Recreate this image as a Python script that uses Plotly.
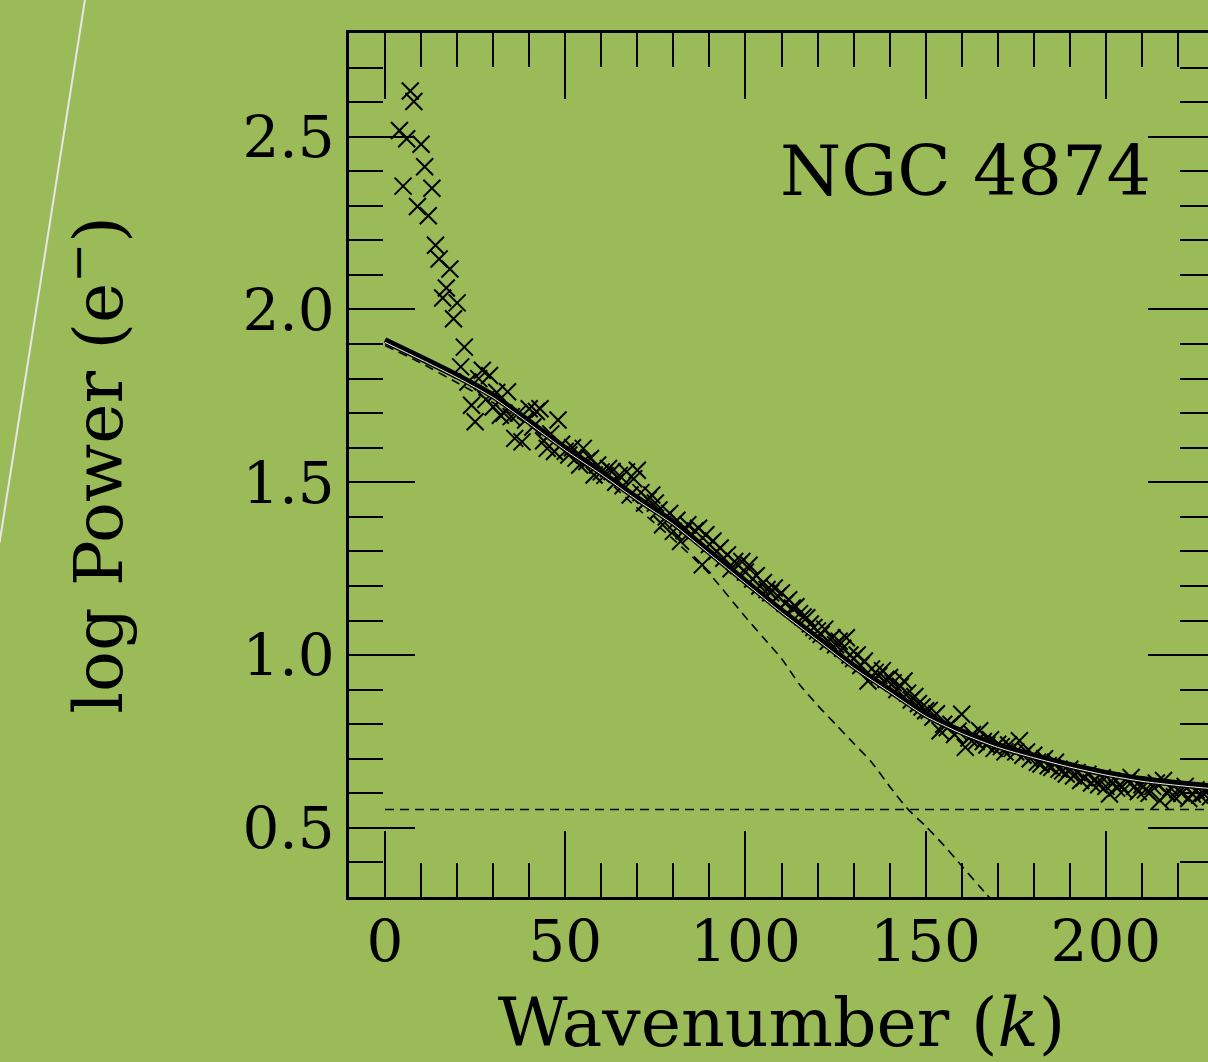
import plotly.graph_objects as go

# ---- data ----
k_data = list(range(4, 231))
p_data = [
    2.518, 2.357, 2.494, 2.632, 2.602, 2.298, 2.478, 2.413, 2.271, 2.351,   # 4-13
    2.186, 2.146, 2.033, 2.062, 2.117, 1.973, 2.019, 1.834, 1.891, 1.79,    # 14-23
    1.723, 1.675, 1.80, 1.824, 1.74, 1.809, 1.718, 1.76, 1.694, 1.70,       # 24-33
    1.762, 1.69, 1.627, 1.70, 1.617, 1.68, 1.713, 1.66, 1.705, 1.713,       # 34-43
    1.62, 1.598, 1.64, 1.589, 1.680, 1.61, 1.59, 1.579, 1.60, 1.57,         # 44-53
    1.550, 1.598, 1.56, 1.569, 1.521, 1.55, 1.53, 1.52, 1.54, 1.531,        # 54-63
    1.50, 1.52, 1.49, 1.53, 1.463, 1.51, 1.535, 1.47, 1.44, 1.45,           # 64-73
    1.463, 1.44, 1.42, 1.377, 1.40, 1.41, 1.358, 1.39, 1.329, 1.36,         # 74-83
    1.377, 1.35, 1.36, 1.367, 1.261, 1.348, 1.32, 1.33, 1.30, 1.31,         # 84-93
    1.28, 1.29, 1.25, 1.271, 1.26, 1.271, 1.24, 1.26, 1.22, 1.23,           # 94-103
    1.20, 1.21, 1.19, 1.18, 1.194, 1.17, 1.18, 1.15, 1.16, 1.136,           # 104-113
    1.14, 1.12, 1.11, 1.108, 1.09, 1.08, 1.07, 1.06, 1.075, 1.04,           # 114-123
    1.05, 1.03, 1.040, 1.02, 1.050, 1.00, 0.99, 1.00, 0.97, 0.983,          # 124-133
    0.925, 0.96, 0.95, 0.94, 0.955, 0.93, 0.935, 0.92, 0.90, 0.91,          # 134-143
    0.925, 0.89, 0.87, 0.88, 0.86, 0.85, 0.839, 0.84, 0.82, 0.83,           # 144-153
    0.781, 0.80, 0.79, 0.80, 0.77, 0.78, 0.829, 0.733, 0.76, 0.77,          # 154-163
    0.75, 0.781, 0.75, 0.74, 0.755, 0.73, 0.742, 0.735, 0.72, 0.74,         # 164-173
    0.73, 0.72, 0.752, 0.71, 0.72, 0.70, 0.71, 0.69, 0.685, 0.70,           # 174-183
    0.68, 0.675, 0.69, 0.67, 0.665, 0.656, 0.67, 0.65, 0.66, 0.637,         # 184-193
    0.645, 0.655, 0.63, 0.64, 0.625, 0.645, 0.62, 0.598, 0.63, 0.615,       # 194-203
    0.625, 0.61, 0.635, 0.646, 0.62, 0.605, 0.625, 0.61, 0.60, 0.62,        # 204-213
    0.63, 0.579, 0.637, 0.60, 0.615, 0.59, 0.61, 0.60, 0.62, 0.585,         # 214-223
    0.598, 0.61, 0.595, 0.60, 0.605, 0.59, 0.60,                            # 224-230
]

k_fit = [0, 10, 20, 30, 40, 50, 60, 70, 80, 90, 100, 110, 120, 130, 140,
         150, 160, 170, 180, 190, 200, 210, 220, 230]
p_fit = [1.912, 1.862, 1.81, 1.752, 1.677, 1.60, 1.53, 1.455, 1.385, 1.30,
         1.215, 1.13, 1.05, 0.97, 0.90, 0.83, 0.78, 0.74, 0.71, 0.683,
         0.66, 0.642, 0.63, 0.62]

k_psf = [0, 10, 20, 30, 40, 50, 60, 70, 80, 90, 100, 105, 110, 115, 120,
         125, 130, 135, 140, 145, 150, 155, 160, 165, 168]
p_psf = [1.896, 1.845, 1.788, 1.73, 1.665, 1.595, 1.52, 1.425, 1.335, 1.235,
         1.11, 1.05, 0.99, 0.915, 0.855, 0.80, 0.745, 0.69, 0.62, 0.555,
         0.505, 0.45, 0.39, 0.33, 0.295]

bg_level = 0.553
k_bg = [0, 230]

x_ticks = [0, 50, 100, 150, 200]
y_ticks = [0.5, 1.0, 1.5, 2.0, 2.5]
label = "NGC 4874"

BG = "#9bbb59"
FONT = "DejaVu Serif"

fig = go.Figure()

# background level (dashed horizontal)
fig.add_trace(go.Scatter(x=k_bg, y=[bg_level] * len(k_bg), mode="lines",
                         line=dict(color="black", width=1.6, dash="9px,6px"),
                         hoverinfo="skip", showlegend=False))
# PSF component (dashed curve)
fig.add_trace(go.Scatter(x=k_psf, y=p_psf, mode="lines",
                         line=dict(color="black", width=1.6, dash="9px,6px",
                                   shape="spline", smoothing=0.6),
                         hoverinfo="skip", showlegend=False))
# data crosses
fig.add_trace(go.Scatter(x=k_data, y=p_data, mode="markers",
                         marker=dict(symbol="x-thin", size=17, color="black",
                                     line=dict(color="black", width=2)),
                         showlegend=False))
# fit (thick solid line, drawn as double line)
fig.add_trace(go.Scatter(x=k_fit, y=p_fit, mode="lines",
                         line=dict(color="black", width=5.5, shape="spline", smoothing=0.6),
                         hoverinfo="skip", showlegend=False))
fig.add_trace(go.Scatter(x=k_fit, y=[v - 0.0108 for v in p_fit], mode="lines",
                         line=dict(color="black", width=1.6, shape="spline", smoothing=0.6),
                         hoverinfo="skip", showlegend=False))
fig.add_trace(go.Scatter(x=k_fit, y=[v - 0.0072 for v in p_fit], mode="lines",
                         line=dict(color="#f2f2f2", width=1, shape="spline", smoothing=0.6),
                         hoverinfo="skip", showlegend=False))

axis_common = dict(
    showgrid=False, zeroline=False, showline=True, linecolor="black", linewidth=2.5,
    mirror="allticks", ticks="inside", tickcolor="black", tickwidth=2,
    tickfont=dict(family=FONT, size=58, color="black"),
)

fig.update_xaxes(range=[-10, 230], tickvals=x_ticks, ticklen=66,
                 ticklabelstandoff=-8,
                 minor=dict(dtick=10, tick0=0, ticks="inside", ticklen=34,
                            tickwidth=2, tickcolor="black"),
                 title=dict(text="Wavenumber (<i>k</i>)",
                            font=dict(family=FONT, size=68, color="black"),
                            standoff=30),
                 **axis_common)
fig.update_yaxes(range=[0.3, 2.8], tickvals=y_ticks, tickformat=".1f", ticklen=66,
                 minor=dict(dtick=0.1, tick0=0.3, ticks="inside", ticklen=34,
                            tickwidth=2, tickcolor="black"),
                 title=dict(text="log Power (e<sup>−</sup>)",
                            font=dict(family=FONT, size=68, color="black"),
                            standoff=98),
                 **axis_common)

fig.add_annotation(x=213, y=2.40, xref="x", yref="y", text=label,
                   showarrow=False, xanchor="right", yanchor="middle",
                   font=dict(family=FONT, size=70, color="black"))

# light diagonal stroke at the top-left of the slide
fig.add_shape(type="line", xref="paper", yref="paper",
              x0=-0.305, y0=1.04, x1=-0.404, y1=0.41,
              line=dict(color="#e6e6e6", width=2))

fig.update_layout(
    width=1216, height=1062,
    margin=dict(l=349, r=2, t=33, b=165, autoexpand=False),
    paper_bgcolor=BG, plot_bgcolor=BG,
    showlegend=False,
)

fig.write_html("out.html",
               post_script="document.documentElement.style.overflow='hidden';"
                           "document.body.style.overflow='hidden';")
